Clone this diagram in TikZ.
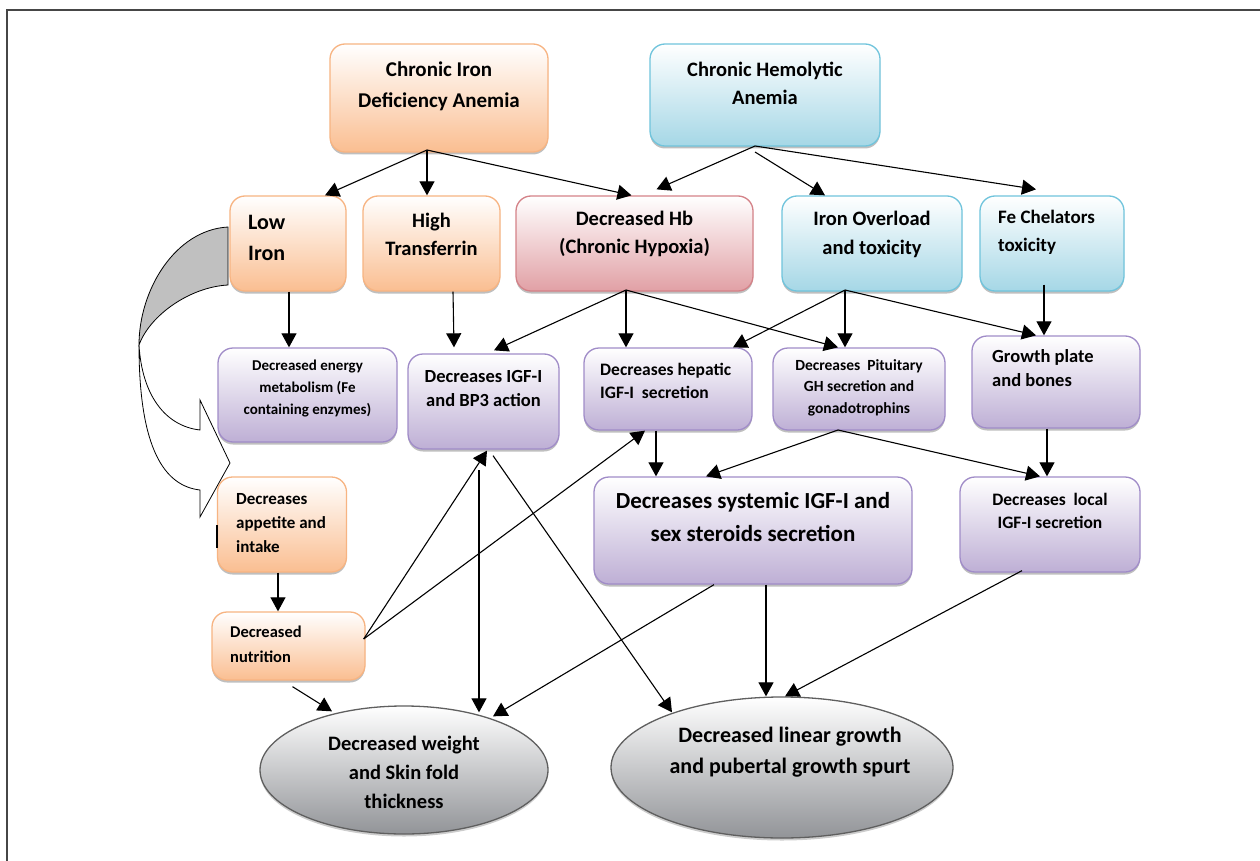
\documentclass[tikz,border=0pt]{standalone}
\usepackage{fontspec}
\setmainfont{Carlito}
\usetikzlibrary{arrows.meta,shadows,shapes.geometric}

\definecolor{orB}{RGB}{247,180,130}
\definecolor{orF}{RGB}{250,190,145}
\definecolor{blB}{RGB}{112,196,220}
\definecolor{blF}{RGB}{165,215,230}
\definecolor{rdB}{RGB}{212,130,136}
\definecolor{rdF}{RGB}{225,160,165}
\definecolor{puB}{RGB}{160,140,200}
\definecolor{puF}{RGB}{190,175,213}
\definecolor{elB}{RGB}{95,95,95}
\definecolor{elF}{RGB}{146,148,152}
\definecolor{frameC}{RGB}{70,70,70}
\definecolor{greyA}{RGB}{192,192,192}
\newcommand{\myfs}[2]{\fontsize{#1}{#2}\selectfont\bfseries}

\begin{document}
\begin{tikzpicture}[x=1pt,y=-1pt,
  bx/.style={rounded corners=15pt, line width=1.3pt, inner sep=0pt,
    drop shadow={shadow xshift=0pt,shadow yshift=-2.5pt,opacity=.25,fill=black}},
  obox/.style={bx, draw=orB, top color=white, bottom color=orF},
  bbox/.style={bx, draw=blB, top color=white, bottom color=blF},
  rbox/.style={bx, draw=rdB, top color=white, bottom color=rdF},
  pbox/.style={bx, draw=puB, top color=white, bottom color=puF},
  ebox/.style={ellipse, line width=1.3pt, inner sep=0pt, draw=elB, top color=white, bottom color=elF,
    drop shadow={shadow xshift=0pt,shadow yshift=-2.5pt,opacity=.2,fill=black}},
  tc/.style={inner sep=0pt, align=center},
  tl/.style={inner sep=0pt, align=left, anchor=west},
  arr/.style={line width=1.1pt, -{Triangle[length=14pt,width=15pt]}}
]
\useasboundingbox (0,0) rectangle (1260,861);
\fill[white] (0,0) rectangle (1260,861);
\draw[line width=2pt, frameC] (7,861) -- (7,10) -- (1260,10);

% curved block arrow (Low Iron -> Decreases appetite)
\filldraw[fill=greyA, draw=black, line width=0.8pt]
  (228,227) .. controls (175,230) and (139,290) .. (139,345)
  .. controls (150,315) and (190,287) .. (228,285) -- cycle;
\filldraw[fill=white, draw=black, line width=0.8pt]
  (139,345) .. controls (139,450) and (165,486) .. (200,490)
  -- (200,517) -- (230,463) -- (200,400) -- (200,430)
  .. controls (165,426) and (142,395) .. (139,345) -- cycle;

% boxes
\node[obox, minimum width=218pt, minimum height=108pt] (cida) at (439,98) {};
\node[bbox, minimum width=230pt, minimum height=102pt] (cha) at (765,95) {};
\node[obox, minimum width=116pt, minimum height=95pt] (lowiron) at (288,243.5) {};
\node[obox, minimum width=137pt, minimum height=95pt] (hightr) at (431.5,243.5) {};
\node[rbox, minimum width=237pt, minimum height=95pt] (hb) at (634.5,243.5) {};
\node[bbox, minimum width=180pt, minimum height=95pt] (iron) at (872,243.5) {};
\node[bbox, minimum width=144pt, minimum height=95pt] (fe) at (1052,243.5) {};
\node[pbox, minimum width=179pt, minimum height=94pt] (energy) at (307.5,395) {};
\node[pbox, minimum width=151pt, minimum height=95pt] (igf) at (483.5,401.5) {};
\node[pbox, minimum width=168pt, minimum height=82pt] (hep) at (668,389) {};
\node[pbox, minimum width=172pt, minimum height=82pt] (pit) at (859,389) {};
\node[pbox, minimum width=168pt, minimum height=92pt] (gp) at (1056,382) {};
\node[pbox, minimum width=318pt, minimum height=107pt] (sys) at (753,530.5) {};
\node[pbox, minimum width=180pt, minimum height=95pt] (loc) at (1050,524.5) {};
\node[obox, minimum width=129pt, minimum height=95pt] (app) at (282,524.5) {};
\node[obox, minimum width=153pt, minimum height=68pt] (nut) at (288.5,646) {};
\node[ebox, minimum width=288pt, minimum height=128pt] (wt) at (404,770) {};
\node[ebox, minimum width=342pt, minimum height=141pt] (lin) at (782,767.5) {};

% texts
\node[tc, font=\myfs{21}{31}] (cidaT) at (439,86) {Chronic Iron\\Deficiency Anemia};
\node[tc, font=\myfs{20.5}{28}] (chaT) at (765,83) {Chronic Hemolytic\\Anemia};
\node[tl, font=\myfs{22}{31}] (lowironT) at (248,238) {Low\\Iron};
\node[tc, font=\myfs{20.5}{28}] (hightrT) at (431.5,234) {High\\Transferrin};
\node[tc, font=\myfs{20.5}{28}] (hbT) at (634.5,234) {Decreased Hb\\(Chronic Hypoxia)};
\node[tc, font=\myfs{20.5}{29}] (ironT) at (872,234.5) {Iron Overload\\and toxicity};
\node[tl, font=\myfs{19}{28}] (feT) at (998,232) {Fe Chelators\\toxicity};
\node[tc, font=\myfs{15}{22}] (energyT) at (307.5,389) {Decreased energy\\metabolism (Fe\\containing enzymes)};
\node[tc, font=\myfs{18.5}{24}] (igfT) at (483.5,388) {Decreases IGF-I\\and BP3 action};
\node[tl, font=\myfs{17.5}{23}] (hepT) at (600,380.5) {Decreases hepatic\\IGF-I~ secretion};
\node[tc, font=\myfs{15.5}{21.5}] (pitT) at (859,387.5) {Decreases~ Pituitary\\GH secretion and\\gonadotrophins};
\node[tl, font=\myfs{18.5}{24}] (gpT) at (992,368) {Growth plate\\and bones};
\node[tc, font=\myfs{23}{33}] (sysT) at (753,517.5) {Decreases systemic IGF-I and\\sex steroids secretion};
\node[tc, font=\myfs{17.5}{23}] (locT) at (1050,510.5) {Decreases~ local\\IGF-I secretion};
\node[tl, font=\myfs{17}{24}] (appT) at (236,523) {Decreases\\appetite and\\intake};
\node[tl, font=\myfs{16.5}{25}] (nutT) at (230,644.5) {Decreased\\nutrition};
\node[tc, font=\myfs{20.5}{29}] (wtT) at (404,772) {Decreased weight\\and Skin fold\\thickness};
\node[tc, font=\myfs{22}{31}] (linT) at (790,752.5) {Decreased linear growth\\and pubertal growth spurt};

% small mark at left of appetite box
\draw[line width=2pt] ([yshift=-0.5pt]app.west) -- ++(0,23);

% junctions
\coordinate (jc) at (427,150);
\coordinate (jh) at (755,146);
\coordinate (jh2) at (755,152);
\coordinate (jb) at (626,290);
\coordinate (ji) at (845,290);
\coordinate (jp) at (838,430);
\coordinate (jv) at (479,470);
\coordinate (jn) at ([xshift=-2pt,yshift=7pt]nut.east);

% connectors
\draw[arr] (jc) -- ([xshift=37pt]lowiron.north);
\draw[arr] (jc) -- ([xshift=-4.5pt]hightr.north);
\draw[arr] (jc) -- ([xshift=-3pt]hb.north);
\draw[arr] (jh) -- ([xshift=22pt,yshift=6pt]hb.north);
\draw[arr] (jh2) -- ([xshift=-47pt]iron.north);
\draw[arr] (jh) -- ([xshift=-16pt,yshift=6pt]fe.north);

\draw[arr] ([xshift=1pt]lowiron.south) -- ([xshift=-18.5pt]energy.north);
\draw[arr] ([xshift=21.5pt]hightr.south) -- ([xshift=-29.5pt,yshift=6pt]igf.north);
\draw[arr] (jb) -- ([xshift=10.5pt,yshift=3pt]igf.north);
\draw[arr] (jb) -- ([xshift=-42pt]hep.north);
\draw[arr] (jb) -- ([xshift=-21pt]pit.north);
\draw[arr] (ji) -- ([xshift=65pt]hep.north);
\draw[arr] (ji) -- ([xshift=-14pt]pit.north);
\draw[arr] (ji) -- ([xshift=-20pt]gp.north);
\draw[arr] ([xshift=-8pt,yshift=7pt]fe.south) -- ([xshift=-12pt]gp.north);

\draw[arr] ([xshift=-12pt]hep.south) -- ([xshift=-97pt]sys.north);
\draw[arr] (jp) -- ([xshift=-47pt]sys.north);
\draw[arr] (jp) -- ([xshift=-10pt]loc.north);
\draw[arr] ([xshift=-9pt]gp.south) -- ([xshift=-3pt]loc.north);

\draw[arr] ([xshift=-4pt]app.south) -- ([xshift=-10.5pt]nut.north);
\draw[arr] (jn) -- ([xshift=3.5pt,yshift=-1pt]igf.south);
\draw[arr] (jn) -- ([xshift=-23pt]hep.south);
\draw[arr] ([xshift=4pt,yshift=-6pt]nut.south) -- ([xshift=-72pt,yshift=-6pt]wt.north);
\draw[arr] (jv) -- ([xshift=75pt,yshift=-7pt]wt.north);
\draw[arr] ([xshift=-39pt]sys.south) -- ([xshift=89pt,yshift=-11pt]wt.north);
\draw[arr] ([xshift=9.5pt,yshift=-6pt]igf.south) -- ([xshift=-110pt,yshift=-16pt]lin.north);
\draw[arr] ([xshift=13pt]sys.south) -- ([xshift=-16pt]lin.north);
\draw[arr] ([xshift=-28pt,yshift=2pt]loc.south) -- ([xshift=3pt]lin.north);
\end{tikzpicture}
\end{document}
